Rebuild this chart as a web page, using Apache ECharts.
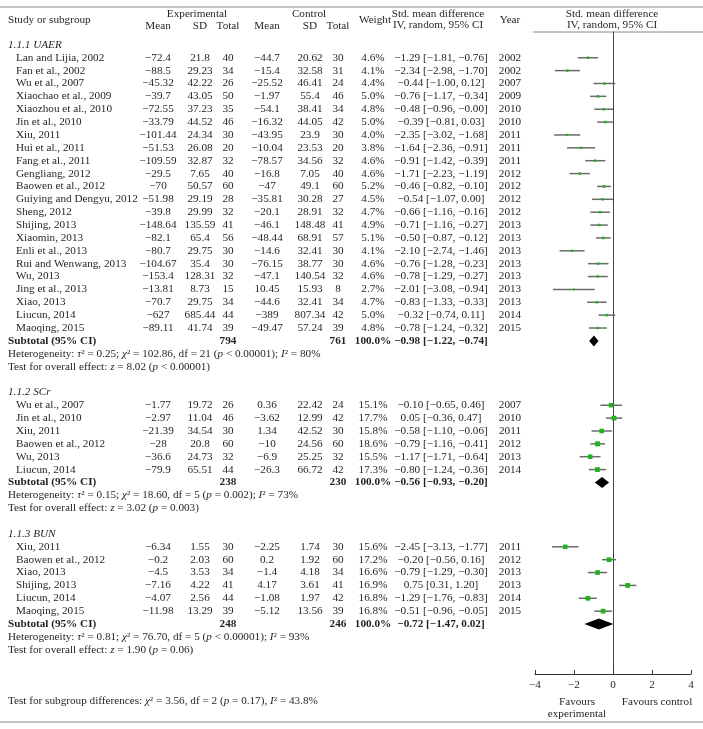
<!DOCTYPE html>
<html><head><meta charset="utf-8">
<script src="https://cdn.jsdelivr.net/npm/echarts@6/dist/echarts.min.js"></script>
<style>html,body{margin:0;padding:0;background:#fff}#c{width:703px;height:729px}</style>
</head><body><div id="c"></div>
<script>
// ---------------- DATA ----------------
const subgroupLabels = ['1.1.1 UAER', '1.1.2 SCr', '1.1.3 BUN'];

const uaerStudy = ['Lan and Lijia, 2002','Fan et al., 2002','Wu et al., 2007','Xiaochao et al., 2009','Xiaozhou et al., 2010','Jin et al., 2010','Xiu, 2011','Hui et al., 2011','Fang et al., 2011','Gengliang, 2012','Baowen et al., 2012','Guiying and Dengyu, 2012','Sheng, 2012','Shijing, 2013','Xiaomin, 2013','Enli et al., 2013','Rui and Wenwang, 2013','Wu, 2013','Jing et al., 2013','Xiao, 2013','Liucun, 2014','Maoqing, 2015'];
const uaerExpMean = [-72.4,-88.5,-45.32,-39.7,-72.55,-33.79,-101.44,-51.53,-109.59,-29.5,-70,-51.98,-39.8,-148.64,-82.1,-80.7,-104.67,-153.4,-13.81,-70.7,-627,-89.11];
const uaerExpSD = [21.8,29.23,42.22,43.05,37.23,44.52,24.34,26.08,32.87,7.65,50.57,29.19,29.99,135.59,65.4,29.75,35.4,128.31,8.73,29.75,685.44,41.74];
const uaerExpN = [40,34,26,50,35,46,30,20,32,40,60,28,32,41,56,30,30,32,15,34,44,39];
const uaerCtlMean = [-44.7,-15.4,-25.52,-1.97,-54.1,-16.32,-43.95,-10.04,-78.57,-16.8,-47,-35.81,-20.1,-46.1,-48.44,-14.6,-76.15,-47.1,10.45,-44.6,-389,-49.47];
const uaerCtlSD = [20.62,32.58,46.41,55.4,38.41,44.05,23.9,23.53,34.56,7.05,49.1,30.28,28.91,148.48,68.91,32.41,38.77,140.54,15.93,32.41,807.34,57.24];
const uaerCtlN = [30,31,24,46,34,42,30,20,32,40,60,27,32,41,57,30,30,32,8,34,42,39];
const uaerWeight = [4.6,4.1,4.4,5.0,4.8,5.0,4.0,3.8,4.6,4.6,5.2,4.5,4.7,4.9,5.1,4.1,4.6,4.6,2.7,4.7,5.0,4.8];
const uaerSMD = [-1.29,-2.34,-0.44,-0.76,-0.48,-0.39,-2.35,-1.64,-0.91,-1.71,-0.46,-0.54,-0.66,-0.71,-0.50,-2.10,-0.76,-0.78,-2.01,-0.83,-0.32,-0.78];
const uaerLow = [-1.81,-2.98,-1.00,-1.17,-0.96,-0.81,-3.02,-2.36,-1.42,-2.23,-0.82,-1.07,-1.16,-1.16,-0.87,-2.74,-1.28,-1.29,-3.08,-1.33,-0.74,-1.24];
const uaerHigh = [-0.76,-1.70,0.12,-0.34,-0.00,0.03,-1.68,-0.91,-0.39,-1.19,-0.10,0.00,-0.16,-0.27,-0.12,-1.46,-0.23,-0.27,-0.94,-0.33,0.11,-0.32];
const uaerYear = [2002,2002,2007,2009,2010,2010,2011,2011,2011,2012,2012,2012,2012,2013,2013,2013,2013,2013,2013,2013,2014,2015];

const scrStudy = ['Wu et al., 2007','Jin et al., 2010','Xiu, 2011','Baowen et al., 2012','Wu, 2013','Liucun, 2014'];
const scrExpMean = [-1.77,-2.97,-21.39,-28,-36.6,-79.9];
const scrExpSD = [19.72,11.04,34.54,20.8,24.73,65.51];
const scrExpN = [26,46,30,60,32,44];
const scrCtlMean = [0.36,-3.62,1.34,-10,-6.9,-26.3];
const scrCtlSD = [22.42,12.99,42.52,24.56,25.25,66.72];
const scrCtlN = [24,42,30,60,32,42];
const scrWeight = [15.1,17.7,15.8,18.6,15.5,17.3];
const scrSMD = [-0.10,0.05,-0.58,-0.79,-1.17,-0.80];
const scrLow = [-0.65,-0.36,-1.10,-1.16,-1.71,-1.24];
const scrHigh = [0.46,0.47,-0.06,-0.41,-0.64,-0.36];
const scrYear = [2007,2010,2011,2012,2013,2014];

const bunStudy = ['Xiu, 2011','Baowen et al., 2012','Xiao, 2013','Shijing, 2013','Liucun, 2014','Maoqing, 2015'];
const bunExpMean = [-6.34,-0.2,-4.5,-7.16,-4.07,-11.98];
const bunExpSD = [1.55,2.03,3.53,4.22,2.56,13.29];
const bunExpN = [30,60,34,41,44,39];
const bunCtlMean = [-2.25,0.2,-1.4,4.17,-1.08,-5.12];
const bunCtlSD = [1.74,1.92,4.18,3.61,1.97,13.56];
const bunCtlN = [30,60,34,41,42,39];
const bunWeight = [15.6,17.2,16.6,16.9,16.8,16.8];
const bunSMD = [-2.45,-0.20,-0.79,0.75,-1.29,-0.51];
const bunLow = [-3.13,-0.56,-1.29,0.31,-1.76,-0.96];
const bunHigh = [-1.77,0.16,-0.30,1.20,-0.83,-0.05];
const bunYear = [2011,2012,2013,2013,2014,2015];

const subtotalExpN = [794,238,248];
const subtotalCtlN = [761,230,246];
const subtotalSMD = [-0.98,-0.56,-0.72];
const subtotalLow = [-1.22,-0.93,-1.47];
const subtotalHigh = [-0.74,-0.20,0.02];
const hetTau2 = [0.25,0.15,0.81];
const hetChi2 = [102.86,18.60,76.70];
const hetDf = [21,5,5];
const hetP = ['< 0.00001','= 0.002','< 0.00001'];
const hetI2 = [80,73,93];
const overallZ = [8.02,3.02,1.90];
const overallP = ['< 0.00001','= 0.003','= 0.06'];
const subgroupTest = {chi2: 3.56, df: 2, p: '= 0.17', i2: 43.8};
const xTicks = [-4,-2,0,2,4];

// ---------------- LAYOUT ----------------
const P = 12.87, Y0 = 44.87;           // row pitch / y of row 0 (px)
const rowOf = y => (y - Y0) / P;
const COL = {heading: 8, name: 16, eMean: 158, eSD: 200, eN: 228, cMean: 267, cSD: 310, cN: 338, weight: 373, smd: 441, year: 510};
const FONT = 'Liberation Serif';
const FS = 11.2;
const INK = '#231f20';

const minus = v => (v < 0 || Object.is(v, -0)) ? '\u2212' + String(Math.abs(v)) : String(v);
const f2 = v => ((v < 0 || Object.is(v, -0)) ? '\u2212' : '') + Math.abs(v).toFixed(2);
const ciText = (e, l, h) => `${f2(e)} [${f2(l)}, ${f2(h)}]`;

const groups = [
  {study: uaerStudy, em: uaerExpMean, es: uaerExpSD, en: uaerExpN, cm: uaerCtlMean, cs: uaerCtlSD, cn: uaerCtlN, w: uaerWeight, smd: uaerSMD, lo: uaerLow, hi: uaerHigh, yr: uaerYear},
  {study: scrStudy, em: scrExpMean, es: scrExpSD, en: scrExpN, cm: scrCtlMean, cs: scrCtlSD, cn: scrCtlN, w: scrWeight, smd: scrSMD, lo: scrLow, hi: scrHigh, yr: scrYear},
  {study: bunStudy, em: bunExpMean, es: bunExpSD, en: bunExpN, cm: bunCtlMean, cs: bunCtlSD, cn: bunCtlN, w: bunWeight, smd: bunSMD, lo: bunLow, hi: bunHigh, yr: bunYear}
];

const cells = [];   // table text
const studyPts = []; // [lo, hi, est, row, weight]
const diamonds = []; // [lo, hi, est, row]
const cell = (x, row, text, align, kind) => cells.push({x, row, text, align: align || 'center', kind: kind || 'n'});

// header
cell(COL.heading, rowOf(20), 'Study or subgroup', 'left');
cell(197, rowOf(14), 'Experimental');
cell(309, rowOf(14), 'Control');
[[COL.eMean,'Mean'],[COL.eSD,'SD'],[COL.eN,'Total'],[COL.cMean,'Mean'],[COL.cSD,'SD'],[COL.cN,'Total']].forEach(([x,t]) => cell(x, rowOf(26), t));
cell(375, rowOf(20), 'Weight');
cell(438, rowOf(14), 'Std. mean difference');
cell(438, rowOf(25.5), 'IV, random, 95% CI');
cell(COL.year, rowOf(20), 'Year');
cell(612, rowOf(14), 'Std. mean difference');
cell(612, rowOf(25.5), 'IV, random, 95% CI');

let r = 0;
groups.forEach((g, gi) => {
  cell(COL.heading, r, `{it|${subgroupLabels[gi]}}`, 'left', 'rich');
  r++;
  g.study.forEach((s, i) => {
    cell(COL.name, r, s, 'left');
    cell(COL.eMean, r, minus(g.em[i]));
    cell(COL.eSD, r, minus(g.es[i]));
    cell(COL.eN, r, String(g.en[i]));
    cell(COL.cMean, r, minus(g.cm[i]));
    cell(COL.cSD, r, minus(g.cs[i]));
    cell(COL.cN, r, String(g.cn[i]));
    cell(COL.weight, r, g.w[i].toFixed(1) + '%');
    cell(COL.smd, r, ciText(g.smd[i], g.lo[i], g.hi[i]));
    cell(COL.year, r, String(g.yr[i]));
    studyPts.push([g.lo[i], g.hi[i], g.smd[i], r, g.w[i]]);
    r++;
  });
  cell(COL.heading, r, 'Subtotal (95% CI)', 'left', 'b');
  cell(COL.eN, r, String(subtotalExpN[gi]), 'center', 'b');
  cell(COL.cN, r, String(subtotalCtlN[gi]), 'center', 'b');
  cell(COL.weight, r, '100.0%', 'center', 'b');
  cell(COL.smd, r, ciText(subtotalSMD[gi], subtotalLow[gi], subtotalHigh[gi]), 'center', 'b');
  diamonds.push([subtotalLow[gi], subtotalHigh[gi], subtotalSMD[gi], r]);
  r++;
  cell(COL.heading, r, `{n|Heterogeneity: }{it|\u03c4}{n|\u00b2 = ${hetTau2[gi].toFixed(2)}; }{it|\u03c7}{n|\u00b2 = ${hetChi2[gi].toFixed(2)}, df = ${hetDf[gi]} (}{it|p}{n| ${hetP[gi]}); }{it|I}{n|\u00b2 = ${hetI2[gi]}%}`, 'left', 'rich');
  r++;
  cell(COL.heading, r, `{n|Test for overall effect: }{it|z}{n| = ${overallZ[gi].toFixed(2)} (}{it|p}{n| ${overallP[gi]})}`, 'left', 'rich');
  r += 2;
});
r += 2;
cell(COL.heading, r, `{n|Test for subgroup differences: }{it|\u03c7}{n|\u00b2 = ${subgroupTest.chi2.toFixed(2)}, df = ${subgroupTest.df} (}{it|p}{n| ${subgroupTest.p}), }{it|I}{n|\u00b2 = ${subgroupTest.i2}%}`, 'left', 'rich');

// ---------------- CHART ----------------
const chart = echarts.init(document.getElementById('c'), null, {renderer: 'canvas'});
const fontStr = (w, s) => `${s || 'normal'} ${w || 'normal'} ${FS}px "${FONT}"`;
const rich = {
  n: {fontFamily: FONT, fontSize: FS, color: INK},
  it: {fontFamily: FONT, fontSize: FS, fontStyle: 'italic', color: INK}
};

const FOREST_TOP = 32, FOREST_BOTTOM_Y = 674;
const option = {
  animation: false,
  backgroundColor: '#fff',
  grid: [
    {left: 535, right: 12, top: FOREST_TOP, height: FOREST_BOTTOM_Y - FOREST_TOP},
    {left: 0, top: 0, width: 703, height: 729}
  ],
  xAxis: [
    {gridIndex: 0, type: 'value', min: xTicks[0], max: xTicks[xTicks.length - 1], interval: 2,
     axisLine: {onZero: false, lineStyle: {color: '#333', width: 1}},
     axisTick: {inside: true, length: 4, lineStyle: {color: '#333'}},
     axisLabel: {fontFamily: FONT, fontSize: FS, color: INK, margin: 6, formatter: v => minus(v)},
     splitLine: {show: false}},
    {gridIndex: 1, type: 'value', min: 0, max: 703, show: false}
  ],
  yAxis: [
    {gridIndex: 0, type: 'value', inverse: true, min: -1, max: rowOf(FOREST_BOTTOM_Y),
     axisLine: {show: true, onZero: true, lineStyle: {color: '#444', width: 1}},
     axisTick: {show: false}, axisLabel: {show: false}, splitLine: {show: false}},
    {gridIndex: 1, type: 'value', inverse: true, min: rowOf(0), max: rowOf(729), show: false}
  ],
  graphic: [
    {type: 'line', shape: {x1: 0, y1: 7, x2: 703, y2: 7}, style: {stroke: '#8a8a8a', lineWidth: 1.2}},
    {type: 'line', shape: {x1: 533, y1: 32, x2: 703, y2: 32}, style: {stroke: '#8a8a8a', lineWidth: 1.2}},
    {type: 'line', shape: {x1: 0, y1: 722, x2: 703, y2: 722}, style: {stroke: '#8a8a8a', lineWidth: 1.2}},
    {type: 'text', x: 577, y: 702, style: {text: 'Favours', font: fontStr(), fill: INK, align: 'center', verticalAlign: 'middle'}},
    {type: 'text', x: 577, y: 714, style: {text: 'experimental', font: fontStr(), fill: INK, align: 'center', verticalAlign: 'middle'}},
    {type: 'text', x: 657, y: 702, style: {text: 'Favours control', font: fontStr(), fill: INK, align: 'center', verticalAlign: 'middle'}}
  ],
  series: [
    {
      type: 'custom', xAxisIndex: 1, yAxisIndex: 1, silent: true, clip: false,
      data: cells.map(c => [c.x, c.row]),
      renderItem: (params, api) => {
        const c = cells[params.dataIndex];
        const p = api.coord([c.x, c.row]);
        const style = {text: c.text, fill: INK, align: c.align, verticalAlign: 'middle',
                       font: fontStr(c.kind === 'b' ? 'bold' : 'normal')};
        if (c.kind === 'rich') style.rich = rich;
        return {type: 'text', x: p[0], y: p[1], style};
      }
    },
    {
      type: 'custom', xAxisIndex: 0, yAxisIndex: 0, silent: true, clip: false,
      data: studyPts,
      encode: {x: [0, 1, 2], y: 3},
      renderItem: (params, api) => {
        const lo = api.coord([api.value(0), api.value(3)]);
        const hi = api.coord([api.value(1), api.value(3)]);
        const c = api.coord([api.value(2), api.value(3)]);
        const s = 1.15 * Math.sqrt(api.value(4));
        return {type: 'group', children: [
          {type: 'line', shape: {x1: lo[0], y1: lo[1], x2: hi[0], y2: hi[1]}, style: {stroke: '#6a6a6a', lineWidth: 1.5}},
          {type: 'rect', shape: {x: c[0] - s / 2, y: c[1] - s / 2, width: s, height: s}, style: {fill: '#1db31d'}}
        ]};
      }
    },
    {
      type: 'custom', xAxisIndex: 0, yAxisIndex: 0, silent: true, clip: false,
      data: diamonds,
      encode: {x: [0, 1, 2], y: 3},
      renderItem: (params, api) => {
        const lo = api.coord([api.value(0), api.value(3)]);
        const hi = api.coord([api.value(1), api.value(3)]);
        const c = api.coord([api.value(2), api.value(3)]);
        const h = 5.5;
        return {type: 'polygon', shape: {points: [[lo[0], lo[1]], [c[0], c[1] - h], [hi[0], hi[1]], [c[0], c[1] + h]]}, style: {fill: '#000'}};
      }
    }
  ]
};
chart.setOption(option);
</script>
</body></html>
